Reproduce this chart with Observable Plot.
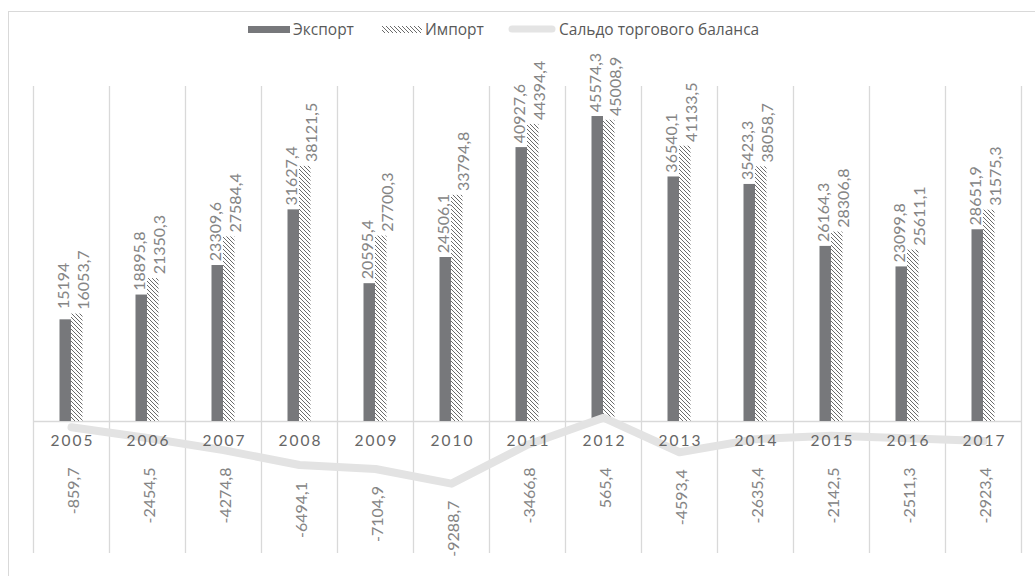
<!DOCTYPE html>
<html>
<head>
<meta charset="utf-8">
<script src="https://cdn.jsdelivr.net/npm/d3@7"></script>
<script src="https://cdn.jsdelivr.net/npm/@observablehq/plot@0.6"></script>
<style>
  html, body { margin: 0; padding: 0; background: #fff; }
  body { width: 1035px; height: 576px; position: relative; overflow: hidden; font-family: "Open Sans", Lato, sans-serif; }
  #frame { position: absolute; left: 8px; top: 11px; width: 1040px; height: 580px; border-top: 1.5px solid #d9d9d9; border-left: 1.5px solid #d9d9d9; pointer-events: none; }
  #legend { height: 50px; position: relative; }
  #legend .item { position: absolute; top: 0; height: 58px; display: flex; align-items: center; color: #595959; font-size: 15.5px; white-space: nowrap; }
  #legend .sw { display: inline-block; margin-right: 3px; }
  #chart { height: 526px; }
</style>
</head>
<body>
<div id="frame"></div>
<div id="legend">
  <div class="item" style="left:248px"><svg class="sw" width="42" height="7"><rect width="42" height="7" fill="#77787b"/></svg><span>Экспорт</span></div>
  <div class="item" style="left:382px"><svg class="sw" width="40" height="7"><defs><pattern id="hatchL" patternUnits="userSpaceOnUse" width="4" height="4"><rect width="4" height="4" fill="#fff"/><path d="M-1,-1 L5,5 M-1,3 L1,5 M3,-1 L5,1" stroke="#6b6b6b" stroke-width="1"/></pattern></defs><rect width="40" height="7" fill="url(#hatchL)"/></svg><span>Импорт</span></div>
  <div class="item" style="left:508px"><svg class="sw" width="48" height="8"><line x1="4" y1="4" x2="44" y2="4" stroke="#e4e4e4" stroke-width="7" stroke-linecap="round"/></svg><span>Сальдо торгового баланса</span></div>
</div>
<div id="chart"></div>
<script>
const years = ["2005","2006","2007","2008","2009","2010","2011","2012","2013","2014","2015","2016","2017"];
const exportVals = [15194, 18895.8, 23309.6, 31627.4, 20595.4, 24506.1, 40927.6, 45574.3, 36540.1, 35423.3, 26164.3, 23099.8, 28651.9];
const importVals = [16053.7, 21350.3, 27584.4, 38121.5, 27700.3, 33794.8, 44394.4, 45008.9, 41133.5, 38058.7, 28306.8, 25611.1, 31575.3];
const balanceVals = [-859.7, -2454.5, -4274.8, -6494.1, -7104.9, -9288.7, -3466.8, 565.4, -4593.4, -2635.4, -2142.5, -2511.3, -2923.4];

const rows = years.map((year, i) => ({year, exp: exportVals[i], imp: importVals[i], bal: balanceVals[i]}));
const fmt = v => String(v).replace(".", ",");

const grid = "#d9d9d9";
const labelColor = "#858585";
const fam = "Lato, 'Open Sans', sans-serif";

const chart = Plot.plot({
  width: 1035,
  height: 526,
  marginLeft: 33,
  marginRight: 14,
  marginTop: 36,
  marginBottom: 23,
  style: {fontFamily: fam, background: "transparent"},
  x: {type: "band", domain: years, padding: 0, axis: null},
  y: {domain: [-19725, 50060], axis: null},
  marks: [
    Plot.ruleX(years, {x: d => d, dx: -38, stroke: grid, strokeWidth: 1.3}),
    Plot.ruleX([years[years.length - 1]], {x: d => d, dx: 38, stroke: grid, strokeWidth: 1.3}),
    Plot.ruleY([0], {stroke: grid, strokeWidth: 1.3}),
    Plot.barY(rows, {x: "year", y: "exp", fill: "#77787b", insetLeft: 26.5, insetRight: 38}),
    Plot.barY(rows, {x: "year", y: "imp", fill: "url(#hatch)", insetLeft: 38, insetRight: 26.5}),
    Plot.lineY(rows, {x: "year", y: "bal", stroke: "#e3e3e3", strokeWidth: 8, strokeLinecap: "round", strokeLinejoin: "round"}),
    Plot.text(rows, {x: "year", y: 0, text: "year", dx: 1, dy: 20, fill: "#666666", fontSize: 15.5, lineAnchor: "middle"}),
    Plot.text(rows, {x: "year", y: "exp", text: d => fmt(d.exp), rotate: -90, dx: -8, dy: -34, textAnchor: "middle", lineAnchor: "middle", fill: labelColor, fontSize: 16}),
    Plot.text(rows, {x: "year", y: "imp", text: d => fmt(d.imp), rotate: -90, dx: 12, dy: -34, textAnchor: "middle", lineAnchor: "middle", fill: labelColor, fontSize: 16}),
    Plot.text(rows, {x: "year", y: d => Math.min(d.bal, -4334), text: d => fmt(d.bal), rotate: -90, dx: 2, dy: 17, textAnchor: "end", lineAnchor: "middle", fill: labelColor, fontSize: 16})
  ]
});

const ns = "http://www.w3.org/2000/svg";
const defs = document.createElementNS(ns, "defs");
defs.innerHTML = '<pattern id="hatch" patternUnits="userSpaceOnUse" width="4" height="4"><rect width="4" height="4" fill="#fff"/><path d="M-1,-1 L5,5 M-1,3 L1,5 M3,-1 L5,1" stroke="#6b6b6b" stroke-width="1"/></pattern>';
chart.insertBefore(defs, chart.firstChild);
chart.querySelectorAll("text").forEach(t => {
  if (years.includes(t.textContent)) { t.setAttribute("letter-spacing", "2px"); t.style.letterSpacing = "2px"; }
});
document.getElementById("chart").appendChild(chart);
</script>
</body>
</html>
